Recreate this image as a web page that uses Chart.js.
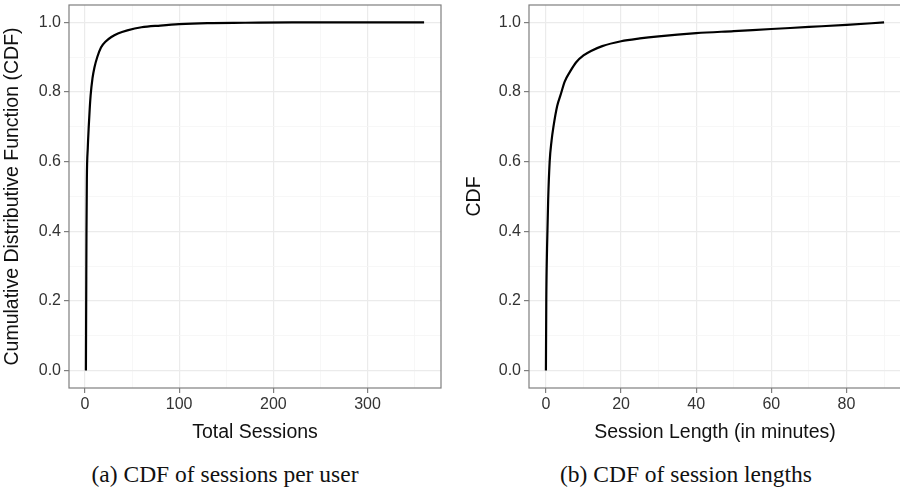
<!DOCTYPE html>
<html>
<head>
<meta charset="utf-8">
<script src="https://cdn.jsdelivr.net/npm/chart.js@4/dist/chart.umd.min.js"></script>
<style>
  html, body { margin: 0; padding: 0; background: #fff; overflow: hidden; }
  body { width: 900px; height: 489px; position: relative; }
  .panel { position: absolute; top: 0; }
  .cap { position: absolute; top: 461px; font-family: "Liberation Serif", "Times New Roman", serif;
         font-size: 23.5px; color: #111; text-align: center; white-space: nowrap; }
</style>
</head>
<body>
<div class="panel" style="left:0;width:450px;height:446px"><canvas id="sessionsChart"></canvas></div>
<div class="panel" style="left:450px;width:451px;height:446px"><canvas id="lengthChart"></canvas></div>
<div class="cap" style="left:-5px;width:460px">(a) CDF of sessions per user</div>
<div class="cap" style="left:456px;width:460px">(b) CDF of session lengths</div>
<script>
// (a) sessions per user
var sessionsX = [1, 1.3, 1.6, 2, 3, 4, 5, 6, 8, 10, 13, 17, 22, 28, 35, 45, 60, 80, 100, 130, 170, 220, 280, 360];
var sessionsCdf = [0, 0.2, 0.4, 0.55, 0.64, 0.7, 0.75, 0.79, 0.84, 0.87, 0.9, 0.928, 0.945, 0.958, 0.968, 0.977, 0.986, 0.991, 0.995, 0.998, 0.999, 1.0, 1.0, 1.0];
var sessionsTicks = [0, 100, 200, 300];
var sessionsMinor = [50, 150, 250, 350];

// (b) session length in minutes
var lengthX = [0, 0.1, 0.3, 0.6, 1.0, 1.5, 2, 3, 4, 5, 6.5, 8, 10, 12, 15, 20, 25, 30, 40, 50, 60, 70, 80, 90];
var lengthCdf = [0, 0.2, 0.35, 0.49, 0.6, 0.66, 0.7, 0.76, 0.795, 0.83, 0.86, 0.885, 0.905, 0.918, 0.932, 0.946, 0.954, 0.96, 0.969, 0.975, 0.981, 0.987, 0.993, 1.0];
var lengthTicks = [0, 20, 40, 60, 80];
var lengthMinor = [10, 30, 50, 70, 90];

var yTicks = [0, 0.2, 0.4, 0.6, 0.8, 1.0];
var yMinor = [0.1, 0.3, 0.5, 0.7, 0.9];

var panelBorder = {
    id: 'panelBorder',
    afterDraw: function (chart) {
        var a = chart.chartArea, ctx = chart.ctx;
        ctx.save();
        ctx.strokeStyle = '#7f7f7f';
        ctx.lineWidth = 1.2;
        ctx.strokeRect(a.left, a.top, a.right - a.left, a.bottom - a.top);
        ctx.restore();
    }
};

function makeCdf(canvasId, xs, ys, xMajor, xMinor, xMin, xMax, xTitle, yTitle, yWidth, yTitlePad, padRight) {
    var pts = xs.map(function (x, i) { return { x: x, y: ys[i] }; });
    var isMajor = function (ctx, major) {
        return major.indexOf(ctx.tick.value) >= 0;
    };
    return new Chart(document.getElementById(canvasId), {
        type: 'line',
        data: {
            datasets: [{
                data: pts,
                borderColor: '#000',
                borderWidth: 2.2,
                pointRadius: 0,
                fill: false,
                cubicInterpolationMode: 'monotone'
            }]
        },
        options: {
            responsive: true,
            maintainAspectRatio: false,
            animation: false,
            layout: { padding: { top: 5, right: padRight, left: 0, bottom: 0 } },
            plugins: { legend: { display: false }, tooltip: { enabled: false } },
            scales: {
                x: {
                    type: 'linear',
                    min: xMin,
                    max: xMax,
                    afterBuildTicks: function (s) {
                        s.ticks = xMajor.concat(xMinor).sort(function (a, b) { return a - b; }).map(function (v) { return { value: v }; });
                    },
                    afterFit: function (s) { s.height = 58; s.paddingLeft = 0; s.paddingRight = 0; },
                    border: { display: false },
                    grid: {
                        color: function (c) { return isMajor(c, xMajor) ? '#ebebeb' : '#f5f5f5'; },
                        lineWidth: function (c) { return isMajor(c, xMajor) ? 1.2 : 0.8; },
                        tickColor: function (c) { return isMajor(c, xMajor) ? '#7f7f7f' : 'rgba(0,0,0,0)'; },
                        tickLength: 5,
                        tickWidth: 1.2
                    },
                    ticks: {
                        autoSkip: false,
                        maxRotation: 0,
                        padding: 2,
                        color: '#333',
                        font: { family: 'Liberation Sans, Arial, sans-serif', size: 16 },
                        callback: function (v) { return xMajor.indexOf(v) >= 0 ? String(v) : ''; }
                    },
                    title: {
                        display: true,
                        text: xTitle,
                        color: '#111',
                        padding: { top: 0, bottom: 2 },
                        font: { family: 'Liberation Sans, Arial, sans-serif', size: 19.5 }
                    }
                },
                y: {
                    type: 'linear',
                    min: -0.05,
                    max: 1.05,
                    afterBuildTicks: function (s) {
                        s.ticks = yTicks.concat(yMinor).sort(function (a, b) { return a - b; }).map(function (v) { return { value: v }; });
                    },
                    afterFit: function (s) { s.width = yWidth; s.paddingTop = 0; s.paddingBottom = 0; },
                    border: { display: false },
                    grid: {
                        color: function (c) { return isMajor(c, yTicks) ? '#ebebeb' : '#f5f5f5'; },
                        lineWidth: function (c) { return isMajor(c, yTicks) ? 1.2 : 0.8; },
                        tickColor: function (c) { return isMajor(c, yTicks) ? '#7f7f7f' : 'rgba(0,0,0,0)'; },
                        tickLength: 5,
                        tickWidth: 1.2
                    },
                    ticks: {
                        autoSkip: false,
                        padding: 3,
                        color: '#333',
                        font: { family: 'Liberation Sans, Arial, sans-serif', size: 16 },
                        callback: function (v) { return yTicks.indexOf(v) >= 0 ? v.toFixed(1) : ''; }
                    },
                    title: {
                        display: true,
                        text: yTitle,
                        color: '#111',
                        padding: { top: yTitlePad, bottom: 0 },
                        font: { family: 'Liberation Sans, Arial, sans-serif', size: 19.5 }
                    }
                }
            }
        },
        plugins: [panelBorder]
    });
}

makeCdf('sessionsChart', sessionsX, sessionsCdf, sessionsTicks, sessionsMinor, -16.95, 377.95,
    'Total Sessions', 'Cumulative Distributive Function (CDF)', 69, 1, 9);
makeCdf('lengthChart', lengthX, lengthCdf, lengthTicks, lengthMinor, -4.5, 94.5,
    'Session Length (in minutes)', 'CDF', 79, 13, 0);
</script>
</body>
</html>
